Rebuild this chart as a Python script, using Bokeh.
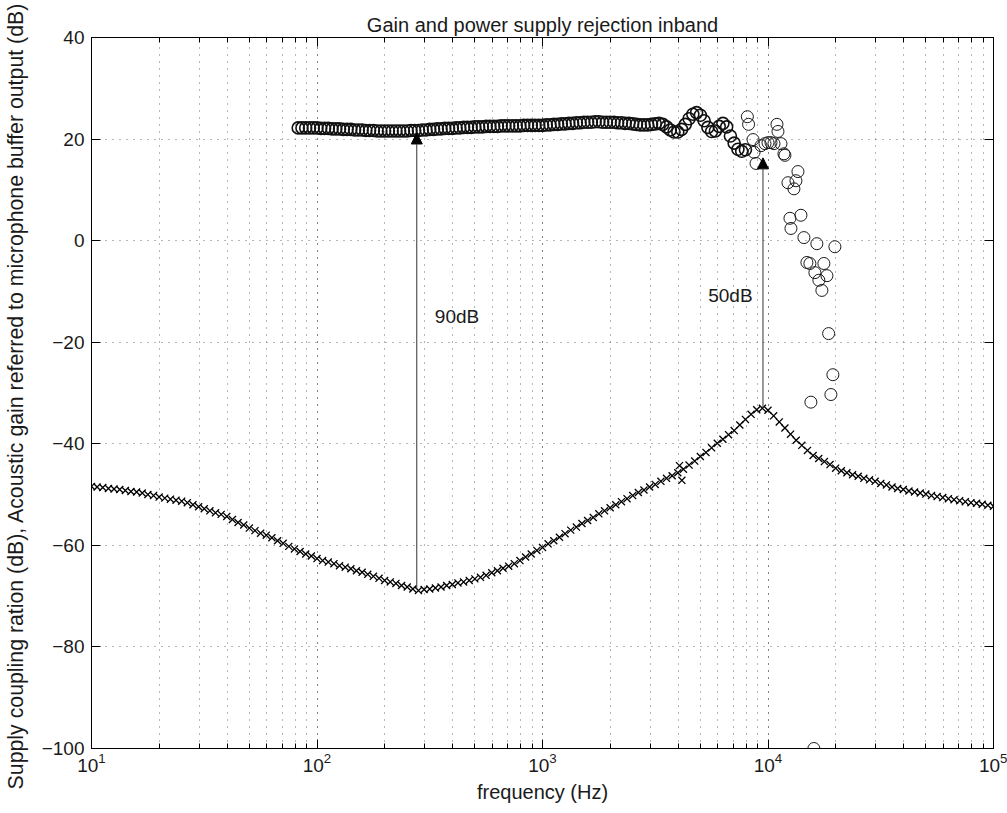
from bokeh.plotting import figure
from bokeh.models import (LogAxis, LinearAxis, FixedTicker, LogTicker, Label,
                          Arrow, NormalHead, ColumnDataSource)
from bokeh.embed import file_html
from bokeh.resources import INLINE

# ---------------- data ----------------
# supply coupling ratio (x markers)
psr_freq = [10.0, 10.59, 11.22, 11.89, 12.59, 13.34, 14.13, 14.96, 15.85, 16.79,
            17.78, 18.84, 19.95, 21.13, 22.39, 23.71, 25.12, 26.61, 28.18, 29.85,
            31.62, 33.50, 35.48, 37.58, 39.81, 42.17, 44.67, 47.32, 50.12, 53.09,
            56.23, 59.57, 63.10, 66.83, 70.79, 74.99, 79.43, 84.14, 89.13, 94.41,
            100.0, 105.9, 112.2, 118.9, 125.9, 133.4, 141.3, 149.6, 158.5, 167.9,
            177.8, 188.4, 199.5, 211.3, 223.9, 237.1, 251.2, 266.1, 281.8, 298.5,
            316.2, 335.0, 354.8, 375.8, 398.1, 421.7, 446.7, 473.2, 501.2, 530.9,
            562.3, 595.7, 631.0, 668.3, 707.9, 749.9, 794.3, 841.4, 891.3, 944.1,
            1000, 1059, 1122, 1189, 1259, 1334, 1413, 1496, 1585, 1679,
            1778, 1884, 1995, 2113, 2239, 2371, 2512, 2661, 2818, 2985,
            3162, 3350, 3548, 3758, 3981, 4217, 4467, 4732, 5012, 5309,
            5623, 5957, 6310, 6683, 7079, 7499, 7943, 8414, 8913, 9441,
            10000, 10593, 11220, 11885, 12589, 13335, 14125, 14962, 15849, 16788,
            17783, 18836, 19953, 21135, 22387, 23714, 25119, 26607, 28184, 29854,
            31623, 33497, 35481, 37584, 39811, 42170, 44668, 47315, 50119, 53088,
            56234, 59566, 63096, 66834, 70795, 74989, 79433, 84140, 89125, 94406,
            100000]
psr_db = [-48.4, -48.5, -48.6, -48.8, -48.9, -49.0, -49.2, -49.4, -49.5, -49.7,
          -50.0, -50.2, -50.5, -50.7, -50.9, -51.1, -51.3, -51.6, -52.0, -52.4,
          -52.8, -53.2, -53.6, -53.9, -54.3, -54.9, -55.5, -56.0, -56.6, -57.1,
          -57.6, -58.0, -58.5, -59.1, -59.6, -60.2, -60.7, -61.2, -61.7, -62.1,
          -62.6, -63.0, -63.3, -63.6, -64.0, -64.3, -64.6, -65.0, -65.3, -65.7,
          -66.1, -66.5, -66.9, -67.2, -67.5, -67.9, -68.2, -68.6, -68.9, -68.7,
          -68.6, -68.4, -68.2, -67.9, -67.7, -67.4, -67.2, -66.9, -66.6, -66.3,
          -65.9, -65.4, -65.0, -64.5, -64.1, -63.6, -63.0, -62.3, -61.7, -61.0,
          -60.4, -59.7, -59.1, -58.4, -57.7, -57.0, -56.4, -55.7, -55.1, -54.5,
          -53.8, -53.2, -52.6, -52.0, -51.4, -50.8, -50.2, -49.6, -49.1, -48.5,
          -48.0, -47.4, -46.8, -46.3, -45.7, -45.0, -44.2, -43.4, -42.5, -41.7,
          -40.8, -39.9, -39.1, -38.2, -37.4, -36.3, -35.2, -34.2, -33.3, -33.0,
          -33.4, -34.5, -35.7, -36.9, -38.1, -39.3, -40.3, -41.3, -42.3, -42.9,
          -43.5, -44.1, -44.8, -45.3, -45.7, -46.1, -46.4, -46.8, -47.1, -47.4,
          -47.8, -48.1, -48.5, -48.8, -49.0, -49.3, -49.5, -49.7, -49.9, -50.2,
          -50.4, -50.6, -50.8, -51.0, -51.2, -51.4, -51.6, -51.7, -51.9, -52.1,
          -52.3]
psr_extra_freq = [4050, 4150]
psr_extra_db = [-44.3, -47.2]

# acoustic gain (circles) - dense in-band part
gain_band_freq = [82.54, 85.77, 89.13, 92.61, 96.24,
                  100.0, 103.9, 108.0, 112.2, 116.6, 121.2, 125.9, 130.8, 135.9, 141.3,
                  146.8, 152.5, 158.5, 164.7, 171.1, 177.8, 184.8, 192.0, 199.5, 207.3,
                  215.4, 223.9, 232.6, 241.7, 251.2, 261.0, 271.2, 281.8, 292.9, 304.3,
                  316.2, 328.6, 341.5, 354.8, 368.7, 383.1, 398.1, 413.7, 429.9, 446.7,
                  464.2, 482.3, 501.2, 520.8, 541.2, 562.3, 584.3, 607.2, 631.0, 655.6,
                  681.3, 707.9, 735.6, 764.4, 794.3, 825.4, 857.7, 891.3, 926.1, 962.4,
                  1000, 1039, 1080, 1122, 1166, 1212, 1259, 1308, 1359, 1413,
                  1468, 1525, 1585, 1647, 1711, 1778, 1848, 1920, 1995, 2073,
                  2154, 2239, 2326, 2417, 2512, 2610, 2712, 2818, 2929, 3043,
                  3162, 3286, 3415, 3548, 3687, 3831, 3981, 4137, 4299, 4467,
                  4642, 4823, 5012, 5208, 5412, 5623, 5843, 6072, 6310, 6556,
                  6813, 7079, 7356, 7644, 7943]
gain_band_db = [22.2, 22.2, 22.2, 22.2, 22.2,
                22.2, 22.1, 22.1, 22.1, 22.0, 22.0, 22.0, 21.9, 21.9, 21.9,
                21.8, 21.8, 21.8, 21.7, 21.7, 21.7, 21.6, 21.6, 21.6, 21.6,
                21.6, 21.6, 21.6, 21.6, 21.6, 21.7, 21.7, 21.7, 21.8, 21.8,
                21.9, 21.9, 22.0, 22.0, 22.1, 22.1, 22.1, 22.2, 22.2, 22.3,
                22.3, 22.3, 22.4, 22.4, 22.4, 22.5, 22.5, 22.5, 22.5, 22.6,
                22.6, 22.6, 22.6, 22.6, 22.6, 22.7, 22.7, 22.7, 22.7, 22.7,
                22.7, 22.8, 22.8, 22.9, 22.9, 23.0, 23.0, 23.1, 23.1, 23.2,
                23.2, 23.3, 23.3, 23.3, 23.4, 23.4, 23.3, 23.3, 23.3, 23.3,
                23.2, 23.2, 23.1, 23.1, 23.0, 22.9, 22.8, 22.8, 22.8, 22.9,
                23.0, 23.1, 22.9, 22.4, 21.8, 21.4, 21.4, 21.9, 22.9, 24.0,
                24.9, 25.2, 24.7, 23.6, 22.3, 21.5, 21.6, 22.5, 23.1, 22.4,
                20.6, 19.2, 18.0, 17.6, 17.9]
# acoustic gain (circles) - scattered roll-off part
gain_scatter_freq = [8100, 8200, 8584, 8673, 8851, 9311, 9699, 10000, 10311, 10629,
                     10958, 11070, 11415, 11767, 11887, 13576, 13301, 12261, 13032, 13996,
                     12512, 12641, 14430, 16471, 19796, 14877, 15339, 17695, 16140, 18252,
                     16811, 17337, 18570, 19397, 19008, 15497, 15975]
gain_scatter_db = [24.4, 22.9, 19.9, 17.4, 15.2, 18.7, 19.1, 19.3, 19.3, 19.1,
                   22.9, 21.5, 19.1, 17.1, 16.8, 13.6, 11.8, 11.4, 10.2, 5.0,
                   4.4, 2.4, 0.6, -0.6, -1.2, -4.3, -4.5, -4.5, -6.3, -6.9,
                   -7.8, -9.8, -18.3, -26.4, -30.3, -31.8, -100.0]

# arrows and their labels
arrow_freq = [277, 9500]
arrow_from_db = [-68.5, -33.0]
arrow_to_db = [21.2, 16.3]
note_text = ["90dB", "50dB"]
note_freq = [333, 5430]
note_db = [-14.9, -10.8]

y_ticks = [-100, -80, -60, -40, -20, 0, 20, 40]

FONT = "Liberation Sans"

# ---------------- figure ----------------
p = figure(width=1007, height=813, x_axis_type="log", x_range=(10, 1e5),
           y_range=(-100, 40), output_backend="svg", toolbar_location=None,
           min_border_left=89, min_border_right=14, min_border_top=37,
           min_border_bottom=65, title="Gain and power supply rejection inband")
p.title.align = "center"
p.title.text_font = FONT
p.title.text_font_size = "20px"
p.title.text_font_style = "normal"
p.title.text_color = "#1a1a1a"
p.title.standoff = 4
p.outline_line_color = "black"
p.outline_line_width = 1
p.background_fill_color = "white"
p.border_fill_color = "white"

xa = p.xaxis[0]
xa.ticker = LogTicker(num_minor_ticks=10)
xa.axis_label = "frequency (Hz)"
ya = p.yaxis[0]
ya.ticker = FixedTicker(ticks=y_ticks)
ya.axis_label = ("Supply coupling ration (dB),  Acoustic gain referred to "
                 "microphone buffer output (dB)")
for ax in (xa, ya):
    ax.axis_label_text_font = FONT
    ax.axis_label_text_font_size = "20px"
    ax.axis_label_text_font_style = "normal"
    ax.axis_label_text_color = "#1a1a1a"
    ax.major_label_text_font = FONT
    ax.major_label_text_font_size = "19px"
    ax.major_label_text_color = "#1a1a1a"
    ax.axis_line_color = "black"
    ax.major_tick_line_color = "black"
    ax.major_tick_in = 9
    ax.major_tick_out = 0
    ax.minor_tick_in = 5
    ax.minor_tick_out = 0
ya.axis_label_text_font_size = "21.3px"
ya.minor_tick_line_color = None
ya.major_label_standoff = 7
ya.axis_label_standoff = 11
xa.major_label_standoff = 4
xa.axis_label_standoff = 6

top_ax = LogAxis(ticker=LogTicker(num_minor_ticks=10), major_label_text_font_size="1px",
                 major_label_text_color=None,
                 major_tick_in=9, major_tick_out=0, minor_tick_in=5, minor_tick_out=0,
                 major_label_standoff=0, axis_line_color="black")
right_ax = LinearAxis(ticker=FixedTicker(ticks=y_ticks), major_label_text_font_size="1px",
                      major_label_text_color=None,
                      major_tick_in=9, major_tick_out=0, minor_tick_line_color=None,
                      major_label_standoff=0, axis_line_color="black")
p.add_layout(top_ax, "above")
p.add_layout(right_ax, "right")

grid_col = "#6e6e6e"
p.xgrid.grid_line_color = grid_col
p.xgrid.grid_line_dash = "1 6"
p.xgrid.minor_grid_line_color = grid_col
p.xgrid.minor_grid_line_dash = "1 6"
p.ygrid.grid_line_color = grid_col
p.ygrid.grid_line_dash = "1 6"

# ---------------- glyphs ----------------
p.scatter(psr_freq, psr_db, marker="x", size=10, line_color="black", line_width=1.3)
p.scatter(psr_extra_freq, psr_extra_db, marker="x", size=10, line_color="black", line_width=1.3)
p.scatter(gain_band_freq, gain_band_db, marker="circle", size=12, fill_color=None,
          line_color="#111111", line_width=1.6)
p.scatter(gain_scatter_freq, gain_scatter_db, marker="circle", size=12, fill_color=None,
          line_color="#1a1a1a", line_width=1)

arrow_src = ColumnDataSource(dict(x0=arrow_freq, y0=arrow_from_db,
                                  x1=arrow_freq, y1=arrow_to_db))
p.add_layout(Arrow(end=NormalHead(size=11, fill_color="black", line_color="black"),
                   x_start="x0", y_start="y0", x_end="x1", y_end="y1",
                   source=arrow_src, line_color="#333333", line_width=1))

for t, fx, dy in zip(note_text, note_freq, note_db):
    p.add_layout(Label(x=fx, y=dy, text=t, text_font=FONT, text_font_size="19px",
                       text_baseline="middle", text_align="left", text_color="#1a1a1a"))

open("out.html", "w").write(file_html(p, INLINE))
